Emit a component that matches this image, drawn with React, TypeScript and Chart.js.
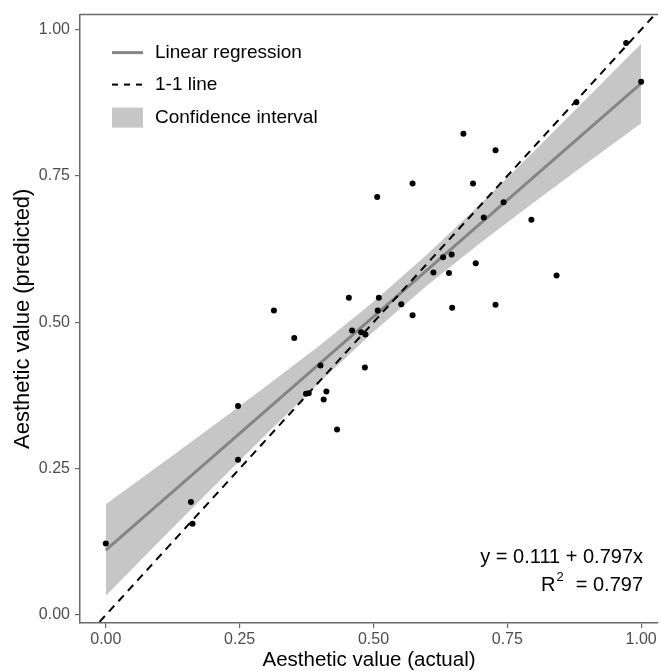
import React, { useEffect, useRef } from "react";
import { Chart, registerables } from "chart.js";

Chart.register(...registerables);

// ---- data ----
const ACTUAL = [
  0.0, 0.159, 0.162, 0.247, 0.247, 0.314, 0.352, 0.374, 0.379, 0.401, 0.407,
  0.412, 0.432, 0.454, 0.46, 0.477, 0.485, 0.484, 0.507, 0.51, 0.508, 0.552,
  0.573, 0.573, 0.612, 0.63, 0.641, 0.646, 0.647, 0.668, 0.686, 0.691, 0.706,
  0.728, 0.728, 0.743, 0.795, 0.842, 0.879, 0.972, 1.0,
];
const PREDICTED = [
  0.122, 0.193, 0.156, 0.357, 0.265, 0.52, 0.473, 0.378, 0.379, 0.426, 0.368,
  0.382, 0.317, 0.542, 0.486, 0.483, 0.479, 0.423, 0.714, 0.542, 0.52, 0.531,
  0.737, 0.512, 0.585, 0.611, 0.584, 0.616, 0.525, 0.822, 0.737, 0.601, 0.679,
  0.794, 0.53, 0.705, 0.675, 0.58, 0.876, 0.977, 0.911,
];

const BAND_X = [0, 0.1, 0.2, 0.3, 0.4, 0.5, 0.6, 0.7, 0.8, 0.9, 1.0];
const BAND_UPPER = [0.189, 0.256, 0.323, 0.391, 0.461, 0.535, 0.616, 0.702, 0.792, 0.884, 0.976];
const BAND_LOWER = [0.033, 0.126, 0.218, 0.309, 0.398, 0.484, 0.563, 0.636, 0.705, 0.773, 0.84];

const REG_X = [0, 1];
const REG_Y = [0.111, 0.908];

const ONE_X = [-0.1, 1.1];
const ONE_Y = [-0.1, 1.1];

const X_TICKS = [0, 0.25, 0.5, 0.75, 1.0];
const Y_TICKS = [0, 0.25, 0.5, 0.75, 1.0];

const X_TITLE = "Aesthetic value (actual)";
const Y_TITLE = "Aesthetic value (predicted)";
const LEGEND_LABELS = ["Linear regression", "1-1 line", "Confidence interval"];
const EQUATION = "y = 0.111 + 0.797x";
const R2_TEXT = "= 0.797";

// ---- styles ----
const FONT = "'Liberation Sans', Arial, sans-serif";
const AXIS_COLOR = "#6a6a6a";
const BAND_COLOR = "#c6c6c6";
const REG_COLOR = "#858585";
const W = 662;
const H = 671;

const overlayPlugin = {
  id: "overlay",
  afterDatasetsDraw(chart: any) {
    const { ctx, chartArea } = chart;
    ctx.save();
    // top panel border
    ctx.strokeStyle = AXIS_COLOR;
    ctx.lineWidth = 1.5;
    ctx.beginPath();
    ctx.moveTo(chartArea.left, chartArea.top);
    ctx.lineTo(chartArea.right, chartArea.top);
    ctx.stroke();

    // legend
    const kx0 = chartArea.left + 32;
    const kx1 = chartArea.left + 63;
    const tx = chartArea.left + 75;
    const rows = [chartArea.top + 38, chartArea.top + 70, chartArea.top + 103];
    ctx.lineCap = "butt";
    ctx.strokeStyle = REG_COLOR;
    ctx.lineWidth = 3;
    ctx.beginPath();
    ctx.moveTo(kx0, rows[0]);
    ctx.lineTo(kx1, rows[0]);
    ctx.stroke();
    ctx.strokeStyle = "#000";
    ctx.lineWidth = 2;
    ctx.setLineDash([6, 6]);
    ctx.beginPath();
    ctx.moveTo(kx0, rows[1]);
    ctx.lineTo(kx1, rows[1]);
    ctx.stroke();
    ctx.setLineDash([]);
    ctx.fillStyle = BAND_COLOR;
    ctx.fillRect(kx0, rows[2] - 10, kx1 - kx0, 20);

    ctx.fillStyle = "#000";
    ctx.font = `19px ${FONT}`;
    ctx.textAlign = "left";
    ctx.textBaseline = "middle";
    LEGEND_LABELS.forEach((t, i) => ctx.fillText(t, tx, rows[i]));

    // equation annotation
    const rx = chartArea.left + 563;
    ctx.font = `20px ${FONT}`;
    ctx.textAlign = "right";
    ctx.fillText(EQUATION, rx, chartArea.top + 543);
    const y2 = chartArea.top + 571;
    ctx.fillText(R2_TEXT, rx, y2);
    const w = ctx.measureText(R2_TEXT).width;
    const eqStart = rx - w;
    ctx.font = `13px ${FONT}`;
    ctx.fillText("2", eqStart - 12, y2 - 8);
    const w2 = ctx.measureText("2").width;
    ctx.font = `20px ${FONT}`;
    ctx.fillText("R", eqStart - 12 - w2 - 1, y2);
    ctx.restore();
  },
};

export default function App() {
  const ref = useRef<HTMLCanvasElement>(null);

  useEffect(() => {
    if (!ref.current) return;
    const chart = new Chart(ref.current, {
      type: "line",
      data: {
        datasets: [
          {
            label: "lower",
            data: BAND_X.map((x, i) => ({ x, y: BAND_LOWER[i] })),
            borderWidth: 0,
            pointRadius: 0,
            fill: false,
            order: 5,
          },
          {
            label: "Confidence interval",
            data: BAND_X.map((x, i) => ({ x, y: BAND_UPPER[i] })),
            borderWidth: 0,
            pointRadius: 0,
            fill: "-1",
            backgroundColor: BAND_COLOR,
            order: 4,
          },
          {
            label: "Linear regression",
            data: REG_X.map((x, i) => ({ x, y: REG_Y[i] })),
            borderColor: REG_COLOR,
            borderWidth: 3,
            pointRadius: 0,
            fill: false,
            order: 3,
          },
          {
            label: "1-1 line",
            data: ONE_X.map((x, i) => ({ x, y: ONE_Y[i] })),
            borderColor: "#000",
            borderWidth: 2,
            borderDash: [8, 6],
            pointRadius: 0,
            fill: false,
            clip: 0,
            order: 2,
          },
          {
            label: "points",
            data: ACTUAL.map((x, i) => ({ x, y: PREDICTED[i] })),
            showLine: false,
            pointRadius: 3,
            pointBackgroundColor: "#000",
            pointBorderWidth: 0,
            order: 1,
          },
        ] as any,
      },
      options: {
        responsive: false,
        animation: false,
        events: [],
        layout: { padding: { top: 14, left: 0, right: 0, bottom: 0 } },
        plugins: { legend: { display: false }, tooltip: { enabled: false } },
        scales: {
          x: {
            type: "linear",
            min: -0.0482,
            max: 1.0315,
            afterBuildTicks: (s: any) => {
              s.ticks = X_TICKS.map((v) => ({ value: v }));
            },
            afterFit: (s: any) => {
              s.height = 48;
            },
            grid: {
              drawOnChartArea: false,
              drawTicks: true,
              tickLength: 5,
              color: AXIS_COLOR,
              lineWidth: 1.2,
            },
            border: { display: true, color: AXIS_COLOR, width: 1.5 },
            ticks: {
              color: "#4d4d4d",
              font: { family: FONT, size: 16 },
              padding: 2,
              maxRotation: 0,
              autoSkip: false,
              callback: (v: any) => Number(v).toFixed(2),
            },
            title: {
              display: true,
              text: X_TITLE,
              color: "#000",
              font: { family: FONT, size: 20.5, lineHeight: 1 },
              padding: 0,
            },
          },
          y: {
            type: "linear",
            min: -0.01365,
            max: 1.0256,
            afterBuildTicks: (s: any) => {
              s.ticks = Y_TICKS.map((v) => ({ value: v }));
            },
            afterFit: (s: any) => {
              s.width = 80;
            },
            grid: {
              drawOnChartArea: false,
              drawTicks: true,
              tickLength: 5,
              color: AXIS_COLOR,
              lineWidth: 1.2,
            },
            border: { display: true, color: AXIS_COLOR, width: 1.5 },
            ticks: {
              color: "#4d4d4d",
              font: { family: FONT, size: 16 },
              padding: 5,
              autoSkip: false,
              callback: (v: any) => Number(v).toFixed(2),
            },
            title: {
              display: true,
              text: Y_TITLE,
              color: "#000",
              font: { family: FONT, size: 22, lineHeight: 1 },
              padding: { top: 12, bottom: 0 },
            },
          },
        },
      } as any,
      plugins: [overlayPlugin],
    });
    return () => chart.destroy();
  }, []);

  return (
    <div style={{ position: "fixed", left: 0, top: 0, width: W, height: H, background: "#fff" }}>
      <canvas ref={ref} width={W} height={H} style={{ width: W, height: H, display: "block" }} />
    </div>
  );
}
